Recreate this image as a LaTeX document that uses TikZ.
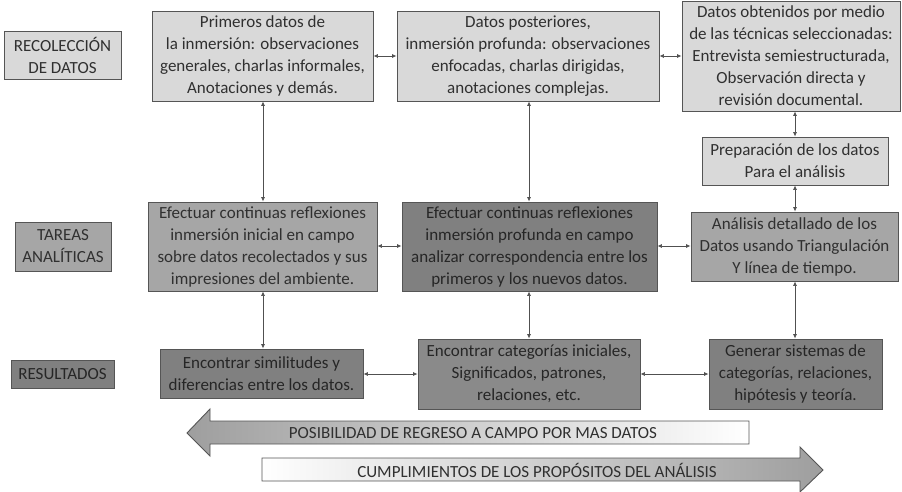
\documentclass[tikz,border=0pt]{standalone}
\usepackage{fontspec}
\setmainfont{Carlito}
\usetikzlibrary{arrows.meta,shapes.arrows}
\definecolor{lightbox}{HTML}{D9D9D9}
\definecolor{midbox}{HTML}{A6A6A6}
\definecolor{darkbox}{HTML}{808080}
\definecolor{darkbox2}{HTML}{8A8A8A}
\definecolor{edgec}{HTML}{555555}
\definecolor{txtc}{HTML}{303030}
\definecolor{linec}{HTML}{505050}
\tikzset{
  box/.style={draw=edgec, line width=0.9pt, align=center, text=txtc, inner sep=0pt,
    font=\fontsize{17}{22}\selectfont},
  lightb/.style={box, fill=lightbox},
  midb/.style={box, fill=midbox},
  darkb/.style={box, fill=darkbox, text=black!85},
  darkbb/.style={box, fill=darkbox2, text=black!85},
  conn/.style={draw=linec, line width=0.7pt, {Latex[length=4.5pt,width=4pt]}-{Latex[length=4.5pt,width=4pt]}},
}
\newcommand{\boxat}[6]{% name, style, x1,y1,x2,y2
  \node[#2, minimum width={#5-#3}, minimum height={#6-#4}] (#1) at ({(#3+#5)/2},{(#4+#6)/2})}
\begin{document}
\begin{tikzpicture}[x=1pt,y=-1pt]
\useasboundingbox (0,0) rectangle (902,492);
% side labels
\boxat{lab1}{lightb}{4}{31}{121}{79} {RECOLECCIÓN\\DE DATOS};
\boxat{lab2}{midb}{15}{222}{111}{271} {TAREAS\\ANALÍTICAS};
\boxat{lab3}{darkb}{11}{360}{114}{388} {RESULTADOS};
% row 1
\boxat{b1}{lightb}{152}{11}{373}{101} {Primeros datos de\\la inmersión: observaciones\\generales, charlas informales,\\Anotaciones y demás.};
\boxat{b2}{lightb}{397}{11}{659}{101} {Datos posteriores,\\inmersión profunda: observaciones\\enfocadas, charlas dirigidas,\\anotaciones complejas.};
\boxat{b3}{lightb}{682}{1}{900}{111} {Datos obtenidos por medio\\de las técnicas seleccionadas:\\Entrevista semiestructurada,\\Observación directa y\\revisión documental.};
\boxat{b4}{lightb}{702}{137}{888}{185} {Preparación de los datos\\Para el análisis};
% row 2
\boxat{c1}{midb}{148}{202}{377}{291} {Efectuar continuas reflexiones\\inmersión inicial en campo\\sobre datos recolectados y sus\\impresiones del ambiente.};
\boxat{c2}{darkb}{402}{202}{657}{291} {Efectuar continuas reflexiones\\inmersión profunda en campo\\analizar correspondencia entre los\\primeros y los nuevos datos.};
\boxat{c3}{midb}{691}{212}{898}{281} {Análisis detallado de los\\Datos usando Triangulación\\Y línea de tiempo.};
% row 3
\boxat{d1}{darkb}{160}{349}{363}{398} {Encontrar similitudes y\\diferencias entre los datos.};
\boxat{d2}{darkbb}{418}{339}{640}{409} {Encontrar categorías iniciales,\\Significados, patrones,\\relaciones, etc.};
\boxat{d3}{darkb}{709}{339}{882}{409} {Generar sistemas de\\categorías, relaciones,\\hipótesis y teoría.};
% connectors
\draw[conn] (b1.east |- 0,56) -- (b2.west |- 0,56);
\draw[conn] (b2.east |- 0,56) -- (b3.west |- 0,56);
\draw[conn] (b1.south -| 263,0) -- (c1.north -| 263,0);
\draw[conn] (b2.south -| 529,0) -- (c2.north -| 529,0);
\draw[conn] (b3.south -| 795,0) -- (b4.north -| 795,0);
\draw[conn] (b4.south -| 795,0) -- (c3.north -| 795,0);
\draw[conn] (c1.east |- 0,246) -- (c2.west |- 0,246);
\draw[conn] (c2.east |- 0,246) -- (c3.west |- 0,246);
\draw[conn] (c1.south -| 263,0) -- (d1.north -| 263,0);
\draw[conn] (c2.south -| 529,0) -- (d2.north -| 529,0);
\draw[conn] (c3.south -| 795,0) -- (d3.north -| 795,0);
\draw[conn] (d1.east |- 0,374) -- (d2.west |- 0,374);
\draw[conn] (d2.east |- 0,374) -- (d3.west |- 0,374);
% big arrows
\shade[left color=black!38, right color=white, draw=edgec, line width=0.9pt]
  (187,433) -- (210,409) -- (210,421) -- (749,421) -- (749,444) -- (210,444) -- (210,456) -- cycle;
\node[text=txtc, font=\fontsize{17}{20}\selectfont, inner sep=0pt] (p1) at (473,433) {POSIBILIDAD DE REGRESO A CAMPO POR MAS DATOS};
\shade[left color=white, right color=black!38, draw=edgec, line width=0.9pt]
  (262,458) -- (800,458) -- (800,447) -- (823,470) -- (800,492) -- (800,481) -- (262,481) -- cycle;
\node[text=txtc, font=\fontsize{17}{20}\selectfont, inner sep=0pt] (p2) at (537,470) {CUMPLIMIENTOS DE LOS PROPÓSITOS DEL ANÁLISIS};
\end{tikzpicture}
\end{document}
